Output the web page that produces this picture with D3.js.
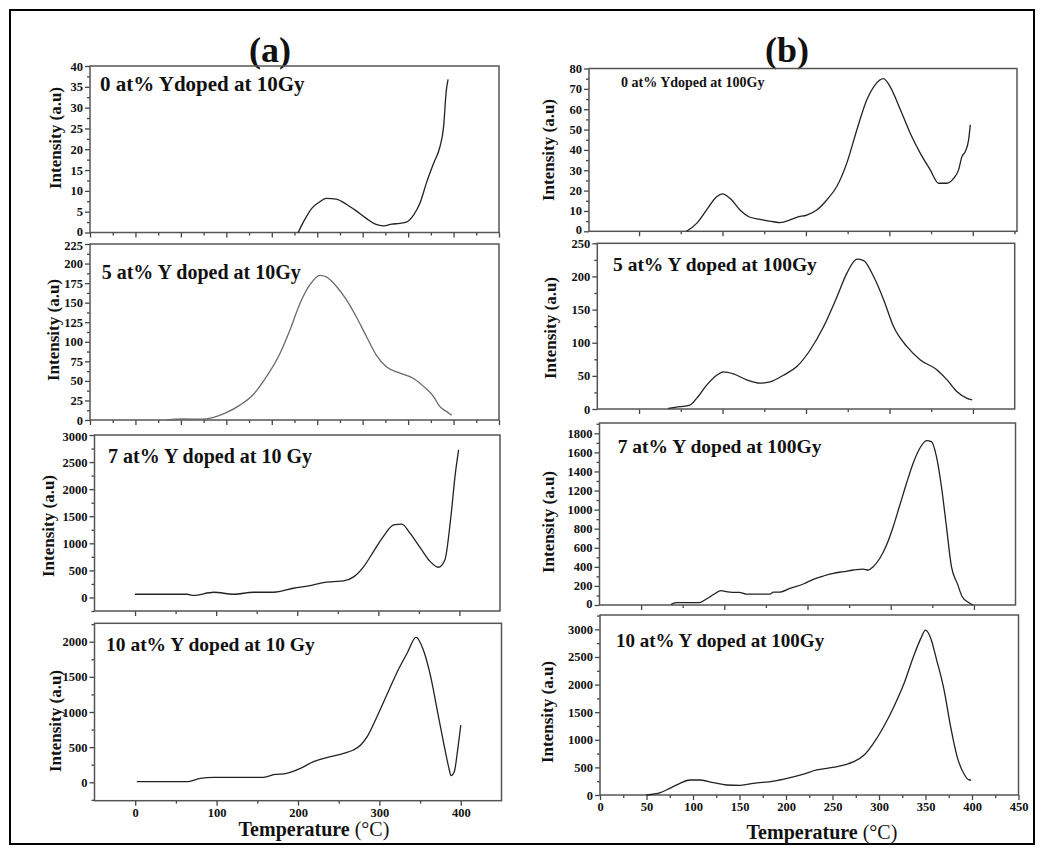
<!DOCTYPE html>
<html>
<head>
<meta charset="utf-8">
<script src="https://cdn.jsdelivr.net/npm/d3@7"></script>
<style>
    body { margin: 0; background: #fff; }
    svg { display: block; }
    text { font-family: "Liberation Serif", "Times New Roman", serif; font-weight: bold; fill: #111; }
</style>
</head>
<body>
<svg width="1044" height="848"></svg>
<script>
// ---- data: temperature (C) / intensity (a.u) ----
// (a) 10 Gy
var tempA0 = [229, 235, 244, 253, 260, 271, 282, 293, 304, 314, 323, 332, 341, 348, 356, 363, 370, 378, 385, 389, 392, 394];
var intA0 = [0, 2.6, 5.8, 7.4, 8.2, 8.0, 6.8, 5.2, 3.4, 2.0, 1.6, 2.0, 2.2, 2.5, 4.2, 7.0, 11.8, 16.6, 20.6, 25.3, 34.1, 36.8];

var tempA1 = [84, 103, 121, 136, 150, 165, 180, 194, 209, 220, 231, 242, 253, 260, 271, 282, 293, 304, 315, 326, 341, 356, 367, 378, 385, 392, 398];
var intA1 = [0, 1.3, 1, 3.4, 9.4, 19, 33, 55, 85, 115, 149, 173, 185, 183, 171, 154, 132, 107, 83, 68, 60, 53, 43, 30, 17, 11, 6];

var tempA2 = [0, 64, 72, 97, 122, 146, 171, 195, 220, 232, 245, 257, 270, 282, 294, 306, 319, 329, 339, 352, 364, 374, 382, 389, 395, 399];
var intA2 = [59, 59, 40, 96, 59, 96, 96, 170, 231, 274, 292, 305, 385, 570, 847, 1124, 1340, 1355, 1187, 909, 662, 558, 693, 1432, 2296, 2726];

var tempA3 = [2, 65, 80, 96, 121, 158, 170, 186, 203, 219, 240, 256, 268, 277, 285, 297, 310, 322, 334, 345, 354, 363, 371, 379, 385, 388, 392, 396, 400];
var intA3 = [9, 9, 57, 71, 71, 71, 108, 128, 199, 293, 364, 412, 459, 530, 649, 933, 1266, 1573, 1835, 2062, 1882, 1502, 1028, 555, 222, 95, 150, 450, 815];

// (b) 100 Gy
var tempB0 = [57, 69, 81, 93, 100, 109, 121, 133, 145, 161, 169, 181, 189, 201, 213, 225, 237, 249, 261, 273, 283, 293, 301, 313, 325, 337, 349, 359, 369, 377, 383, 387, 391, 395, 397];
var intB0 = [0, 3.9, 10.5, 17, 18.4, 16.2, 10.5, 6.9, 5.9, 4.7, 4.3, 5.6, 6.9, 8, 10.5, 15.4, 22, 33.5, 49.8, 64.6, 72, 75, 71, 60, 48.2, 38.4, 30.2, 23.6, 23.6, 26, 30.2, 36.7, 39.2, 44.9, 52.3];

var tempB1 = [35, 49, 61, 69, 81, 93, 101, 113, 129, 145, 157, 173, 189, 205, 221, 237, 249, 261, 269, 281, 293, 305, 321, 337, 357, 369, 381, 393, 399];
var intB1 = [1, 3.5, 6, 16, 36, 51, 56, 53, 44, 39, 41, 51, 64, 89, 124, 169, 205, 226, 224, 200, 165, 124, 94, 74, 59, 44, 26, 16, 13.6];

var tempB2 = [36, 42, 70, 78, 88, 96, 102, 110, 118, 126, 155, 159, 167, 179, 195, 207, 219, 231, 243, 255, 267, 273, 279, 287, 295, 303, 311, 319, 327, 335, 343, 349, 355, 361, 367, 373, 380, 386, 394, 399];
var intB2 = [7, 24, 24, 60, 115, 150, 140, 133, 133, 115, 115, 136, 136, 175, 220, 269, 304, 332, 349, 367, 377, 367, 402, 490, 629, 821, 1048, 1276, 1486, 1643, 1723, 1712, 1555, 1240, 821, 402, 227, 87, 24, 0];

var tempB3 = [50, 65, 75, 86, 97, 108, 122, 136, 151, 165, 187, 201, 219, 233, 248, 262, 273, 284, 294, 305, 316, 327, 337, 345, 350, 355, 362, 370, 377, 384, 391, 397, 399];
var intB3 = [0, 42, 121, 212, 272, 272, 223, 181, 175, 212, 253, 302, 380, 453, 494, 543, 603, 724, 936, 1237, 1599, 2022, 2504, 2837, 2985, 2866, 2444, 1901, 1237, 694, 393, 272, 272];

var notes = ["0 at% Ydoped at 10Gy", "5 at% Y doped at 10Gy", "7 at% Y doped at 10 Gy", "10 at% Y doped at 10 Gy",
    "0 at% Ydoped at 100Gy", "5 at% Y doped at 100Gy", "7 at% Y doped at 100Gy", "10 at% Y doped at 100Gy"];

// ---- layout of each small plot (pixels / axis setup) ----
var panels = [
    {t: tempA0, v: intA0, xd: [0, 450], xr: [90, 499], yd: [0, 40], yr: [232.5, 66], yStep: 5, xStep: 50, xLab: false,
        note: [100, 90.7, 21], yl: [55, 138], col: "#222", nudge: -1.5},
    {t: tempA1, v: intA1, xd: [0, 450], xr: [90, 499], yd: [0, 225], yr: [420, 244], yStep: 25, xStep: 50, xLab: false,
        note: [101.7, 279.3, 20], yl: [53, 330], col: "#6a6a6a", nudge: 1.5},
    {t: tempA2, v: intA2, xd: [-50, 450], xr: [94.5, 500], yd: [-250, 3000], yr: [611, 435], yStep: 500, xStep: 100, xLab: false,
        note: [108, 462.7, 20], yl: [48, 526], col: "#222", nudge: 1},
    {t: tempA3, v: intA3, xd: [-50, 450], xr: [94.5, 501.5], yd: [-262, 2262], yr: [800.7, 623.3], yStep: 500, xStep: 100, xLab: true,
        note: [106, 650.7, 19.5], yl: [55, 721], col: "#222", nudge: 0},
    {t: tempB0, v: intB0, xd: [-60, 453], xr: [589, 1017], yd: [0, 80], yr: [231.3, 68.5], yStep: 10, xStep: 100, xLab: false,
        note: [621, 87.3, 14], yl: [548, 150], col: "#222", nudge: -1.5},
    {t: tempB1, v: intB1, xd: [-50, 450], xr: [597.3, 1014.7], yd: [0, 250], yr: [409, 243.3], yStep: 50, xStep: 100, xLab: false,
        note: [613, 270.7, 19.5], yl: [550, 328], col: "#222", nudge: 0},
    {t: tempB2, v: intB2, xd: [-50, 450], xr: [599.5, 1015.5], yd: [0, 1908], yr: [605, 423], yStep: 200, xStep: 100, xLab: false,
        note: [617.7, 452.7, 19.5], yl: [548, 522], col: "#222", nudge: -1.5},
    {t: tempB3, v: intB3, xd: [0, 450], xr: [600, 1018.5], yd: [0, 3260], yr: [795, 615], yStep: 500, xStep: 50, xLab: true,
        note: [616, 646.7, 19], yl: [547, 712], col: "#222", nudge: 0}
];

var svg = d3.select("svg");

svg.append("rect")
    .attr("x", 10).attr("y", 10)
    .attr("width", 1024).attr("height", 834)
    .attr("fill", "none").attr("stroke", "#000").attr("stroke-width", 2);

svg.append("text").attr("x", 270).attr("y", 62).attr("text-anchor", "middle")
    .style("font-size", "36px").text("(a)");
svg.append("text").attr("x", 787).attr("y", 62).attr("text-anchor", "middle")
    .style("font-size", "36px").text("(b)");

panels.forEach(function (p, i) { drawPanel(p, notes[i]); });

xTitle(314, 836);
xTitle(822, 839);

function xTitle(cx, by) {
    var t = svg.append("text").attr("x", cx).attr("y", by).attr("text-anchor", "middle")
        .style("font-size", "20px");
    t.append("tspan").text("Temperature ");
    t.append("tspan").style("font-weight", "normal").text("(\u00B0C)");
}

function drawPanel(p, note) {
    var x = d3.scaleLinear().domain(p.xd).range(p.xr);
    var y = d3.scaleLinear().domain(p.yd).range(p.yr);
    var g = svg.append("g");

    var yMaj = d3.range(0, p.yd[1] + 1e-6, p.yStep);
    var yMin = d3.range(p.yd[0] < 0 ? -p.yStep / 2 : p.yStep / 2, p.yd[1], p.yStep)
        .filter(function (d) { return d >= p.yd[0] && d <= p.yd[1]; });
    var xMaj = d3.range(0, p.xd[1] + 1e-6, p.xStep).filter(function (d) { return d <= 450; });
    var xMin = d3.range(p.xStep / 2, p.xd[1], p.xStep);

    // minor ticks
    g.append("g").attr("transform", "translate(" + p.xr[0] + ",0)")
        .call(d3.axisLeft(y).tickValues(yMin).tickSize(3).tickFormat(""));
    g.append("g").attr("transform", "translate(0," + p.yr[0] + ")")
        .call(d3.axisBottom(x).tickValues(xMin).tickSize(3).tickFormat(""));

    // major ticks
    var ya = g.append("g").attr("transform", "translate(" + p.xr[0] + ",0)")
        .call(d3.axisLeft(y).tickValues(yMaj).tickSize(5).tickPadding(2).tickFormat(d3.format("d")));
    var xa = g.append("g").attr("transform", "translate(0," + p.yr[0] + ")")
        .call(d3.axisBottom(x).tickValues(xMaj).tickSize(5).tickPadding(2).tickFormat(d3.format("d")));
    if (!p.xLab) xa.selectAll("text").remove();

    // keep the lowest / highest labels of stacked plots apart
    ya.selectAll(".tick text").filter(function (d) { return d === 0; })
        .attr("y", p.nudge < 0 ? p.nudge : 0);
    ya.selectAll(".tick text").filter(function (d, k, n) { return k === n.length - 1; })
        .attr("y", p.nudge > 0 ? p.nudge : 0);

    g.selectAll(".domain").remove();
    g.selectAll(".tick line").attr("stroke", "#444").attr("stroke-width", 1.3);
    g.selectAll(".tick text").style("font-size", "12.5px").style("font-family", "'Liberation Serif', serif")
        .style("font-weight", "bold").attr("fill", "#111");

    // frame
    g.append("rect")
        .attr("x", p.xr[0]).attr("y", p.yr[1])
        .attr("width", p.xr[1] - p.xr[0]).attr("height", p.yr[0] - p.yr[1])
        .attr("fill", "none").attr("stroke", "#555").attr("stroke-width", 1.5);

    var pts = p.t.map(function (d, k) { return [d, p.v[k]]; });
    var line = d3.line()
        .x(function (d) { return x(d[0]); })
        .y(function (d) { return y(d[1]); })
        .curve(d3.curveMonotoneX);
    g.append("path").datum(pts)
        .attr("d", line)
        .attr("fill", "none")
        .attr("stroke", p.col)
        .attr("stroke-width", 1.3);

    g.append("text").attr("x", p.note[0]).attr("y", p.note[1])
        .style("font-size", p.note[2] + "px").text(note);

    g.append("text")
        .attr("transform", "translate(" + p.yl[0] + "," + p.yl[1] + ") rotate(-90)")
        .attr("text-anchor", "middle").attr("dominant-baseline", "central")
        .style("font-size", "17px").text("Intensity (a.u)");
}
</script>
</body>
</html>
